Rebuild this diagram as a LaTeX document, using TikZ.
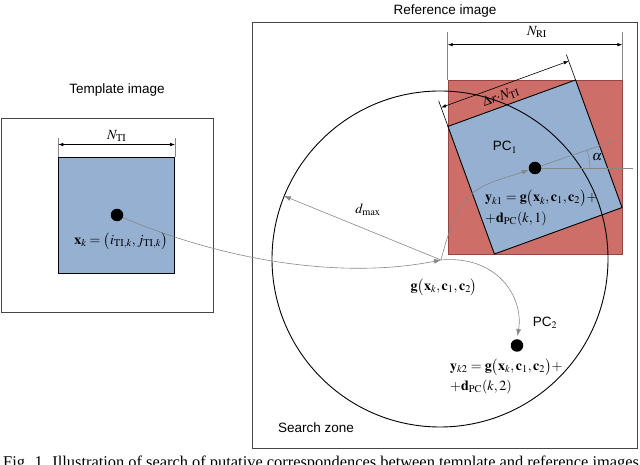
\documentclass[tikz,border=0pt]{standalone}
\usepackage{mathptmx}
\usepackage{fontspec}
\setmainfont{Liberation Serif}
\newfontfamily\arialfont{Liberation Sans}
\usetikzlibrary{arrows.meta,calc}
\definecolor{redfill}{RGB}{205,110,104}
\definecolor{redline}{RGB}{150,70,66}
\definecolor{bluefill}{RGB}{149,176,208}
\definecolor{boxgray}{RGB}{70,70,70}
\definecolor{curvegray}{RGB}{135,135,135}
\pgfdeclarelayer{fg}
\pgfsetlayers{main,fg}
\begin{document}
\begin{tikzpicture}[x=1pt,y=1pt,
  frame/.style={draw=boxgray,line width=0.9pt,inner sep=0pt},
  sanslabel/.style={font=\arialfont\fontsize{13.5}{16}\selectfont,inner sep=0pt},
  mathlabel/.style={font=\fontsize{14}{16}\selectfont,inner sep=0pt},
  thincurve/.style={draw=curvegray,line width=0.6pt},
  tip/.style={-{Latex[length=7pt,width=5pt]}},
  dimline/.style={line width=0.6pt,{Latex[length=5pt,width=3.5pt]}-{Latex[length=5pt,width=3.5pt]}},
  extline/.style={draw=curvegray,line width=0.5pt},
  extdark/.style={draw=black,line width=0.6pt},
  dotnode/.style={circle,fill=black,minimum size=12.5pt,inner sep=0pt},
]
\useasboundingbox (0,0) rectangle (640,465);
\clip (0,0) rectangle (640,465);

% ---------- Template image ----------
\node[sanslabel] (ttitle) at (117,375) {Template image};
\node[frame,minimum width=212pt,minimum height=194pt] (tbox) at (107,250) {};
\node[draw=black,line width=0.9pt,fill=bluefill,minimum size=116pt,inner sep=0pt] (tblue) at (116.7,250) {};
\draw[extline] (tblue.north west) -- ++(0,19);
\draw[extline] (tblue.north east) -- ++(0,19);
\draw[dimline] ($(tblue.north west)+(0,12)$) -- ($(tblue.north east)+(0,12)$);
\node[mathlabel,anchor=south] (ntilab) at (116.7,323) {$N_{\mathrm{TI}}$};

% ---------- Reference image ----------
\node[sanslabel] (rtitle) at (445,454) {Reference image};
\node[frame,minimum width=385pt,minimum height=426pt] (rbox) at (444.5,230) {};
\node[draw=redline,line width=0.6pt,fill=redfill,minimum size=174pt,inner sep=0pt] (redsq) at (535,298) {};
\node[draw=black,line width=0.9pt,fill=bluefill,minimum size=135.8pt,inner sep=0pt,rotate=20] (bluesq) at (535,298) {};

% N_RI dimension
\draw[extline] (redsq.north west) -- ++(0,48);
\draw[extline] (redsq.north east) -- ++(0,48);
\draw[dimline] ($(redsq.north west)+(0,35)$) -- ($(redsq.north east)+(0,35)$);
\node[mathlabel,anchor=south] (nrilab) at (537,427) {$N_{\mathrm{RI}}$};

% Delta r N_TI dimension (rotated)
\begin{scope}[shift={(535,298)},rotate=20]
  \draw[extdark] (-67.9,67.9) -- (-67.9,95);
  \draw[extdark] (67.9,67.9) -- (67.9,95);
  \draw[dimline] (-67.9,88) -- (67.9,88);
  \node[mathlabel,rotate=20] (drlab) at (-8,78) {$\Delta r{\cdot}N_{\mathrm{TI}}$};
\end{scope}

% Search zone circle
\node[circle,draw=black,line width=0.9pt,minimum size=336pt,inner sep=0pt] (zone) at (440,206) {};
\node[sanslabel] (szlab) at (316,37) {Search zone};

% points
\coordinate (g) at (441,205);
\begin{pgfonlayer}{fg}
\node[dotnode] (tdot) at (117,250) {};
\node[dotnode] (pc1) at (535,297) {};
\node[dotnode] (pc2) at (517,119.5) {};
\end{pgfonlayer}

% connectors
\draw[thincurve,tip] (tdot.center) .. controls (220,205) and (340,185) .. (g);
\draw[thincurve,tip] (g) -- (zone.158.6);
\draw[thincurve,tip] (g) .. controls (460,280) and (478,278) .. (pc1.198);
\draw[thincurve] (pc1.center) -- ++(19:86);
\draw[thincurve] (pc1.center) -- ++(98,0);
\draw[thincurve] ([shift={(0:55)}]pc1.center) arc[start angle=0,end angle=19,radius=55];
\draw[thincurve,tip,shorten >=3pt] (g) .. controls (497,210) and (524,168) .. (pc2.north);

% labels
\node[mathlabel] (xklab) at (121,224) {$\mathbf{x}_k=\bigl(i_{\mathrm{TI},k},j_{\mathrm{TI},k}\bigr)$};
\node[mathlabel] (glab) at (444,178) {$\mathbf{g}\bigl(\mathbf{x}_k,\mathbf{c}_1,\mathbf{c}_2\bigr)$};
\node[mathlabel] (dmaxlab) at (368,255) {$d_{\max}$};
\node[mathlabel] (alphalab) at (597,308) {$\alpha$};
\node[sanslabel] (pc1lab) at (505,317.7) {PC$_1$};
\node[mathlabel,anchor=west] (yk1a) at (485,266.7) {$\mathbf{y}_{k1}=\mathbf{g}\bigl(\mathbf{x}_k,\mathbf{c}_1,\mathbf{c}_2\bigr)+$};
\node[mathlabel,anchor=west] (yk1b) at (485,245.7) {$+\mathbf{d}_{\mathrm{PC}}(k,1)$};
\node[sanslabel] (pc2lab) at (545,142) {PC$_2$};
\node[mathlabel,anchor=west] (yk2a) at (450,98) {$\mathbf{y}_{k2}=\mathbf{g}\bigl(\mathbf{x}_k,\mathbf{c}_1,\mathbf{c}_2\bigr)+$};
\node[mathlabel,anchor=west] (yk2b) at (450,78) {$+\mathbf{d}_{\mathrm{PC}}(k,2)$};

% caption (cut off by the picture edge)
\node[font=\fontsize{16.4}{19}\selectfont,anchor=base west,inner sep=0pt] (caption) at (3,-3) {Fig. 1. Illustration of search of putative correspondences between template and reference images};
\end{tikzpicture}
\end{document}
